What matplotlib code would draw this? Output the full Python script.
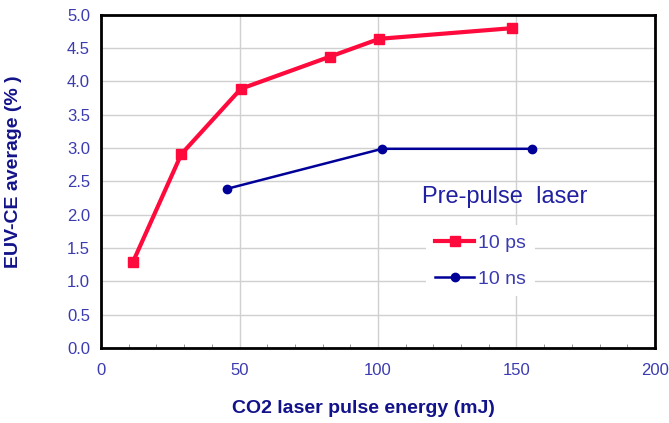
import matplotlib
matplotlib.use("Agg")
import matplotlib.pyplot as plt
from matplotlib.ticker import MultipleLocator

plt.rcParams['font.family'] = ['Liberation Sans', 'DejaVu Sans']

# Data
ps_energy = [11.5, 29.0, 50.5, 82.5, 100.5, 148.5]
ps_ce = [1.29, 2.91, 3.89, 4.37, 4.64, 4.80]
ns_energy = [45.5, 101.5, 155.5]
ns_ce = [2.39, 2.99, 2.99]
series_labels = ["10 ps", "10 ns"]
legend_title = "Pre-pulse  laser"
x_label = "CO2 laser pulse energy (mJ)"
y_label = "EUV-CE average (% )"

tick_color = "#3b3bb0"
label_color = "#12128a"
red = "#ff0a3c"
blue = "#000099"

fig = plt.figure(figsize=(6.69, 4.23), dpi=100)
ax = fig.add_axes([0.151, 0.177, 0.828, 0.788])

ax.plot(ps_energy, ps_ce, color=red, lw=3, marker='s', ms=7, label=series_labels[0], zorder=3)
ax.plot(ns_energy, ns_ce, color=blue, lw=1.8, marker='o', ms=6, label=series_labels[1], zorder=3)

ax.set_xlim(0, 200)
ax.set_ylim(0, 5.0)
ax.xaxis.set_major_locator(MultipleLocator(50))
ax.xaxis.set_minor_locator(MultipleLocator(10))
ax.yaxis.set_major_locator(MultipleLocator(0.5))
ax.yaxis.set_major_formatter(matplotlib.ticker.FormatStrFormatter('%.1f'))

ax.grid(True, which='major', color='#d0d0d0', lw=1.0, zorder=0)
ax.tick_params(axis='both', which='major', length=0, labelsize=12, labelcolor=tick_color, pad=8)
ax.tick_params(axis='x', which='major', pad=11)
ax.tick_params(axis='x', which='minor', direction='in', length=3, color='#888888', top=False)
for s in ax.spines.values():
    s.set_color('black')
    s.set_linewidth(2)

ax.set_xlabel(x_label, fontsize=14, fontweight='bold', color=label_color, labelpad=12)
ax.xaxis.set_label_coords(0.473, -0.155)
ax.set_ylabel(y_label, fontsize=14, fontweight='bold', color=label_color)
ax.yaxis.set_label_coords(-0.142, 0.53)

leg = ax.legend(loc='upper left', bbox_to_anchor=(0.57, 0.398), frameon=True, fontsize=14,
                handlelength=2.0, handletextpad=0.2, labelspacing=0.95, borderpad=0.45)
leg.get_frame().set_facecolor('white')
leg.get_frame().set_edgecolor('none')
leg.get_frame().set_alpha(1)
for t in leg.get_texts():
    t.set_color(tick_color)

ax.text(0.728, 0.452, legend_title, transform=ax.transAxes, fontsize=17, color="#2020a0",
        ha='center', va='center', zorder=5)

fig.savefig("out.png", dpi=100)
